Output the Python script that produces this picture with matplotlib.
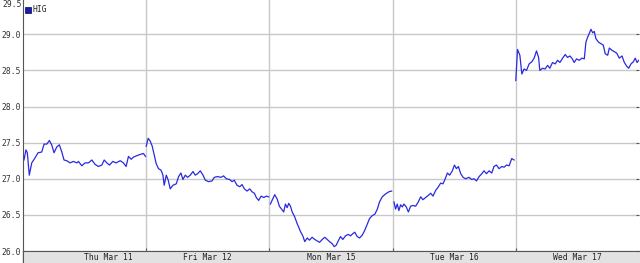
"""Intraday HIG price chart, Thu Mar 11 - Wed Mar 17."""

import matplotlib

matplotlib.use("Agg")
import matplotlib.pyplot as plt
from matplotlib.patches import Rectangle

day_labels = ["Thu Mar 11", "Fri Mar 12", "Mon Mar 15", "Tue Mar 16", "Wed Mar 17"]
y_ticks = [26.0, 26.5, 27.0, 27.5, 28.0, 28.5, 29.0]
y_top_label = 29.5

# fraction of the trading day and price, one pair of lists per day
thu_t = [0.008, 0.024, 0.035, 0.051, 0.071, 0.098, 0.122, 0.152, 0.171, 0.193,
         0.214, 0.233, 0.252, 0.274, 0.295, 0.315, 0.333, 0.355, 0.382, 0.409,
         0.437, 0.450, 0.477, 0.504, 0.531, 0.559, 0.585, 0.612, 0.640, 0.659,
         0.680, 0.702, 0.729, 0.756, 0.789, 0.815, 0.837, 0.856, 0.878, 0.897,
         0.924, 0.957, 0.978, 0.994]
thu_p = [27.26, 27.40, 27.36, 27.05, 27.22, 27.29, 27.36, 27.37, 27.48, 27.48,
         27.53, 27.47, 27.36, 27.44, 27.47, 27.37, 27.26, 27.25, 27.22, 27.24,
         27.22, 27.24, 27.18, 27.22, 27.22, 27.26, 27.20, 27.17, 27.19, 27.26,
         27.22, 27.19, 27.24, 27.22, 27.25, 27.22, 27.17, 27.31, 27.27, 27.30,
         27.32, 27.34, 27.35, 27.31]

fri_t = [0.000, 0.016, 0.033, 0.049, 0.065, 0.081, 0.100, 0.120, 0.136, 0.146,
         0.163, 0.179, 0.195, 0.217, 0.244, 0.263, 0.282, 0.298, 0.317, 0.336,
         0.358, 0.380, 0.398, 0.417, 0.439, 0.461, 0.480, 0.507, 0.534, 0.553,
         0.580, 0.607, 0.628, 0.650, 0.677, 0.697, 0.715, 0.737, 0.759, 0.778,
         0.797, 0.819, 0.840, 0.859, 0.878, 0.894, 0.913, 0.933, 0.954, 0.976,
         0.994]
fri_p = [27.45, 27.56, 27.52, 27.45, 27.33, 27.21, 27.14, 27.12, 27.05, 26.91,
         27.05, 26.98, 26.86, 26.91, 26.93, 27.03, 27.08, 26.99, 27.05, 27.02,
         27.05, 27.10, 27.05, 27.07, 27.11, 27.05, 26.98, 26.96, 26.97, 27.02,
         27.03, 27.02, 27.04, 27.00, 26.99, 26.96, 26.98, 26.91, 26.89, 26.92,
         26.86, 26.83, 26.86, 26.82, 26.80, 26.74, 26.70, 26.76, 26.74, 26.76,
         26.75]

mon_t = [0.008, 0.027, 0.043, 0.063, 0.081, 0.103, 0.116, 0.130, 0.144, 0.157,
         0.171, 0.185, 0.206, 0.225, 0.238, 0.252, 0.271, 0.287, 0.307, 0.325,
         0.347, 0.368, 0.388, 0.407, 0.429, 0.450, 0.469, 0.488, 0.510, 0.526,
         0.542, 0.559, 0.577, 0.596, 0.618, 0.640, 0.659, 0.677, 0.693, 0.713,
         0.732, 0.754, 0.775, 0.794, 0.813, 0.835, 0.856, 0.876, 0.894, 0.916,
         0.943, 0.970, 0.992]
mon_p = [26.65, 26.72, 26.78, 26.72, 26.62, 26.57, 26.54, 26.65, 26.60, 26.66,
         26.62, 26.54, 26.47, 26.38, 26.33, 26.27, 26.21, 26.13, 26.18, 26.15,
         26.19, 26.16, 26.14, 26.12, 26.16, 26.19, 26.16, 26.13, 26.10, 26.06,
         26.08, 26.14, 26.20, 26.16, 26.21, 26.23, 26.21, 26.24, 26.26, 26.20,
         26.18, 26.22, 26.29, 26.37, 26.45, 26.49, 26.51, 26.58, 26.68, 26.75,
         26.79, 26.82, 26.83]

tue_t = [0.011, 0.024, 0.038, 0.051, 0.065, 0.079, 0.092, 0.111, 0.128, 0.146,
         0.165, 0.187, 0.209, 0.228, 0.246, 0.268, 0.290, 0.309, 0.328, 0.350,
         0.372, 0.390, 0.409, 0.425, 0.445, 0.463, 0.485, 0.502, 0.518, 0.534,
         0.553, 0.572, 0.593, 0.620, 0.642, 0.661, 0.681, 0.702, 0.724, 0.742,
         0.762, 0.783, 0.805, 0.823, 0.843, 0.864, 0.886, 0.905, 0.924, 0.946,
         0.967, 0.986]
tue_p = [26.68, 26.58, 26.65, 26.56, 26.64, 26.61, 26.65, 26.61, 26.54, 26.62,
         26.63, 26.62, 26.68, 26.75, 26.71, 26.74, 26.77, 26.80, 26.76, 26.84,
         26.89, 26.94, 26.93, 26.99, 27.08, 27.05, 27.11, 27.19, 27.14, 27.17,
         27.07, 27.02, 27.00, 27.02, 26.99, 27.00, 26.97, 27.03, 27.07, 27.11,
         27.07, 27.11, 27.08, 27.17, 27.19, 27.14, 27.17, 27.16, 27.19, 27.18,
         27.28, 27.26]

wed_t = [0.000, 0.014, 0.033, 0.049, 0.067, 0.087, 0.108, 0.130, 0.149, 0.168,
         0.185, 0.195, 0.217, 0.238, 0.258, 0.276, 0.298, 0.320, 0.339, 0.358,
         0.380, 0.401, 0.420, 0.439, 0.455, 0.474, 0.493, 0.515, 0.537, 0.556,
         0.569, 0.583, 0.596, 0.610, 0.624, 0.637, 0.650, 0.672, 0.691, 0.710,
         0.726, 0.746, 0.759, 0.780, 0.799, 0.819, 0.840, 0.862, 0.881, 0.900,
         0.916, 0.935, 0.954, 0.970, 0.984, 0.998]
wed_p = [28.36, 28.79, 28.71, 28.45, 28.52, 28.50, 28.59, 28.62, 28.67, 28.77,
         28.68, 28.50, 28.53, 28.52, 28.57, 28.53, 28.61, 28.59, 28.64, 28.61,
         28.67, 28.72, 28.68, 28.70, 28.67, 28.61, 28.66, 28.64, 28.67, 28.66,
         28.89, 28.96, 29.01, 29.07, 29.02, 29.04, 28.94, 28.89, 28.87, 28.85,
         28.73, 28.71, 28.81, 28.78, 28.76, 28.74, 28.67, 28.70, 28.61, 28.56,
         28.53, 28.59, 28.62, 28.67, 28.61, 28.64]

days = [(thu_t, thu_p), (fri_t, fri_p), (mon_t, mon_p), (tue_t, tue_p), (wed_t, wed_p)]

W, H = 640, 263
fig = plt.figure(figsize=(W / 100, H / 100), dpi=100)
fig.patch.set_facecolor("white")

# grey date band under the plot (own axes so it sits behind everything)
band = fig.add_axes([25 / W, 0, 1 - 25 / W, 11 / H], zorder=-1)
band.set_facecolor("#e2e2e2")
band.set_xticks([])
band.set_yticks([])
for s in band.spines.values():
    s.set_visible(False)

ax = fig.add_axes([23 / W, 12 / H, 616 / W, 251 / H])
ax.patch.set_alpha(0)

line_color = "#2a2ae0"
for i, (t, p) in enumerate(days):
    ax.plot([i + v for v in t], p, color=line_color, lw=0.9, zorder=3)

ax.set_xlim(0, 5)
ax.set_ylim(26.0, 29.475)
ax.set_yticks(y_ticks)
ax.set_yticklabels([f"{v:.1f}" for v in y_ticks])
ax.set_xticks([1, 2, 3, 4])
ax.set_xticklabels([])
ax.grid(True, color="#c8c8c8", lw=1.0)
ax.set_axisbelow(True)

mono = "DejaVu Sans Mono"
for lab in ax.get_yticklabels():
    lab.set_fontfamily(mono)
    lab.set_fontsize(5.8)
    lab.set_color("#333333")
ax.tick_params(axis="y", length=0, pad=1.5)
ax.tick_params(axis="x", direction="in", length=2, color="#555555")
ax.tick_params(axis="y", which="both", right=True, direction="in", length=2,
               color="#555555")
ax.tick_params(axis="y", left=False)

# top value label sits flush with the top edge
ax.text(-1.5 / 616, 1.0, f"{y_top_label:.1f}", transform=ax.transAxes, ha="right",
        va="top", fontsize=5.8, family=mono, color="#333333")

for side in ["top", "right"]:
    ax.spines[side].set_visible(False)
ax.spines["left"].set_color("#555555")
ax.spines["bottom"].set_color("#555555")

# left spine continues through the band
fig.add_artist(plt.Line2D([23 / W, 23 / W], [0, 12 / H], transform=fig.transFigure,
                          color="#555555", lw=1.0))

label_pos = [0.69, 1.5, 2.5, 3.5, 4.5]
for x, lab in zip(label_pos, day_labels):
    fig.text((23 + x * 123.2) / W, 5.5 / H, lab, ha="center", va="center",
             fontsize=5.8, family=mono, color="#222222")

# legend
ax.add_patch(Rectangle((0.004, 0.95), 0.009, 0.022, transform=ax.transAxes,
                       facecolor="#1c1caa", edgecolor="#000066", lw=0.5, zorder=4))
ax.text(0.016, 0.961, "HIG", transform=ax.transAxes, fontsize=5.8, family=mono,
        va="center", ha="left", color="#222222")

fig.savefig("out.png", dpi=100)
